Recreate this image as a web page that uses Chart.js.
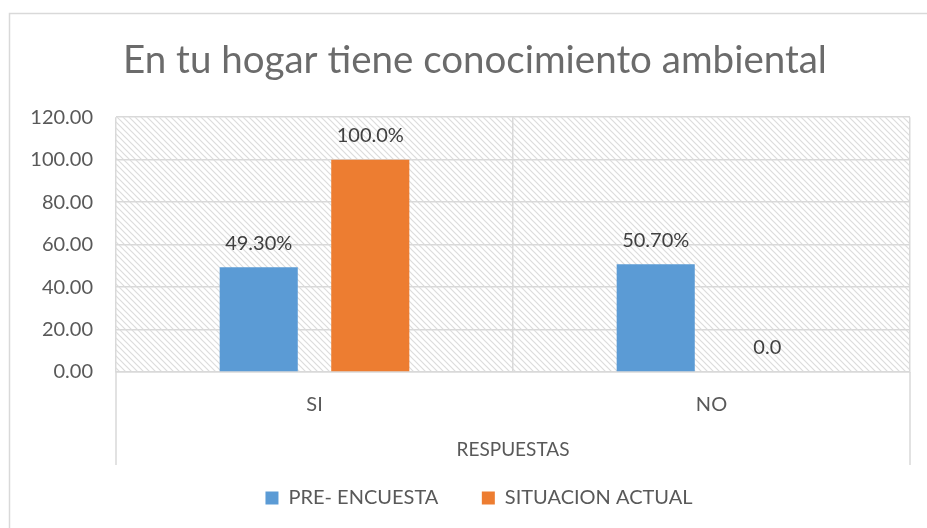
<!DOCTYPE html>
<html>
<head>
<meta charset="utf-8">
<script src="https://cdn.jsdelivr.net/npm/chart.js@4.4.1/dist/chart.umd.min.js"></script>
<style>
  html, body { margin: 0; padding: 0; background: #fff; }
  #wrap { width: 927px; height: 528px; position: relative; }
</style>
</head>
<body>
<div id="wrap"><canvas id="chart"></canvas></div>
<script>
const categories = ['SI', 'NO'];
const preEncuesta = [49.3, 50.7];
const situacionActual = [100.0, 0.0];
const preLabels = ['49.30%', '50.70%'];
const actualLabels = ['100.0%', '0.0'];

const gray = '#d9d9d9';
const textGray = '#595959';

// diagonal hatch for the plot area
function makeHatch() {
    const c = document.createElement('canvas');
    c.width = 6;
    c.height = 6;
    const g = c.getContext('2d');
    g.fillStyle = '#fff';
    g.fillRect(0, 0, 6, 6);
    g.strokeStyle = '#dcdcdc';
    g.lineWidth = 1.2;
    g.beginPath();
    g.moveTo(-1, -1); g.lineTo(7, 7);
    g.moveTo(-1, 5); g.lineTo(1, 7);
    g.moveTo(5, -1); g.lineTo(7, 1);
    g.stroke();
    return g.createPattern(c, 'repeat');
}

const frame = {
    id: 'frame',
    afterLayout(chart) {
        // excel centres title and legend a bit right of the canvas middle
        chart.titleBlock.left += 20;
        chart.titleBlock.right += 20;
        chart.legend.left += 24;
        chart.legend.right += 24;
    },
    beforeDraw(chart) {
        const {ctx, chartArea} = chart;
        ctx.save();
        ctx.strokeStyle = gray;
        ctx.lineWidth = 1.5;
        ctx.strokeRect(9.5, 13.5, 1200, 1200);
        ctx.fillStyle = makeHatch();
        ctx.fillRect(chartArea.left, chartArea.top, chartArea.right - chartArea.left, chartArea.bottom - chartArea.top);
        ctx.restore();
    },
    afterDraw(chart) {
        const {ctx, chartArea} = chart;
        const xs = chart.scales.x;
        ctx.save();
        ctx.strokeStyle = gray;
        ctx.lineWidth = 1.5;
        ctx.beginPath();
        [chartArea.left, chartArea.right].forEach(x => {
            ctx.moveTo(x, chartArea.bottom);
            ctx.lineTo(x, xs.bottom);
        });
        ctx.stroke();
        ctx.restore();
    }
};

const barLabels = {
    id: 'barLabels',
    afterDatasetsDraw(chart) {
        const {ctx} = chart;
        const texts = [preLabels, actualLabels];
        ctx.save();
        ctx.font = '20px Lato';
        ctx.fillStyle = '#404040';
        ctx.textAlign = 'center';
        ctx.textBaseline = 'middle';
        chart.data.datasets.forEach((ds, i) => {
            chart.getDatasetMeta(i).data.forEach((bar, j) => {
                ctx.fillText(texts[i][j], bar.x, bar.y - 24);
            });
        });
        ctx.restore();
    }
};

const data = {
    labels: categories,
    datasets: [{
        label: 'PRE- ENCUESTA    ',
        data: preEncuesta,
        backgroundColor: '#5b9bd5'
    }, {
        label: 'SITUACION ACTUAL',
        data: situacionActual,
        backgroundColor: '#ed7d31'
    }]
};

const config = {
    type: 'bar',
    data: data,
    options: {
        responsive: true,
        maintainAspectRatio: false,
        animation: false,
        categoryPercentage: 0.562,
        barPercentage: 0.7,
        layout: {
            padding: { left: 0, right: 17, top: 0, bottom: 10 }
        },
        scales: {
            x: {
                grid: {
                    offset: true,
                    color: gray,
                    lineWidth: 1.5,
                    drawTicks: false
                },
                border: { color: gray, width: 1.5 },
                ticks: {
                    color: textGray,
                    font: { family: 'Lato', size: 20 },
                    padding: 21
                },
                title: {
                    display: true,
                    text: 'RESPUESTAS',
                    color: textGray,
                    font: { family: 'Lato', size: 19 },
                    padding: { top: 0, bottom: 4 }
                },
                afterFit(scale) { scale.height = 93; }
            },
            y: {
                min: 0,
                max: 120,
                grid: {
                    color: gray,
                    lineWidth: 1.5,
                    drawTicks: false
                },
                border: { display: false },
                ticks: {
                    stepSize: 20,
                    color: textGray,
                    font: { family: 'Lato', size: 20 },
                    padding: 23,
                    callback: v => v.toFixed(2)
                },
                afterFit(scale) { scale.width = 116; }
            }
        },
        plugins: {
            title: {
                display: true,
                text: 'En tu hogar tiene conocimiento ambiental',
                color: '#6b6b6b',
                font: { family: 'Lato', size: 38.5, weight: 'normal' },
                padding: { top: 37, bottom: 34 }
            },
            legend: {
                position: 'bottom',
                labels: {
                    color: textGray,
                    boxWidth: 13,
                    boxHeight: 13,
                    padding: 23,
                    font: { family: 'Lato', size: 20 }
                }
            },
            tooltip: { enabled: false }
        }
    },
    plugins: [frame, barLabels]
};

const myChart = new Chart(document.getElementById('chart'), config);
</script>
</body>
</html>
